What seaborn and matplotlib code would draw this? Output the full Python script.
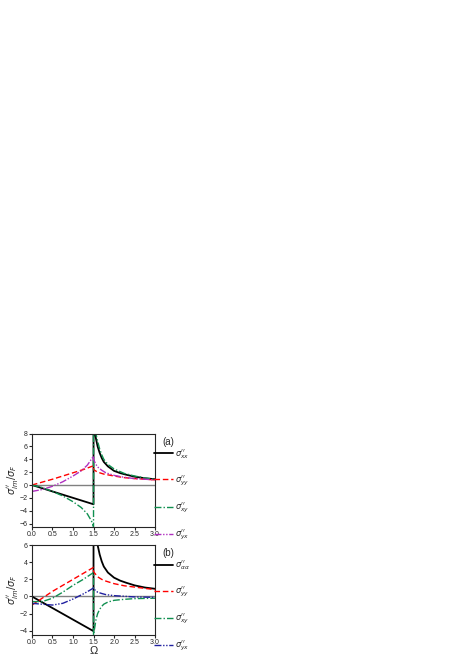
import matplotlib
matplotlib.use("Agg")
import matplotlib.pyplot as plt
import seaborn as sns
import pandas as pd

sns.set_style("ticks")
plt.rcParams['font.family'] = ['Liberation Sans', 'DejaVu Sans']
plt.rcParams['mathtext.fontset'] = 'dejavusans'

# Panel (a)
a_xx_x = [0.0, 0.5, 1.0, 1.5, 1.5, 1.53, 1.56, 1.6, 1.65, 1.7, 1.75, 1.85, 2.0, 2.15, 2.3, 2.5, 2.75, 3.0]
a_xx_y = [0.0, -1.0, -2.0, -3.0, 8.5, 8.3, 7.2, 6.0, 5.0, 4.2, 3.6, 2.9, 2.2, 1.85, 1.6, 1.3, 1.05, 0.9]
a_yy_x = [0.0, 0.25, 0.5, 0.75, 1.0, 1.25, 1.5, 1.5, 1.6, 1.75, 2.0, 2.25, 2.5, 2.75, 3.0]
a_yy_y = [0.0, 0.45, 0.9, 1.4, 1.9, 2.4, 3.0, 2.4, 2.0, 1.7, 1.4, 1.15, 1.0, 0.9, 0.8]
a_xy_x = [0.0, 0.25, 0.5, 0.75, 1.0, 1.2, 1.35, 1.45, 1.5, 1.5, 1.55, 1.6, 1.65, 1.7, 1.75, 1.85, 2.0, 2.25, 2.5, 2.75, 3.0]
a_xy_y = [0.0, -0.4, -1.0, -1.7, -2.6, -3.5, -4.5, -5.6, -6.5, 8.5, 8.2, 6.8, 5.6, 4.7, 4.0, 3.2, 2.5, 1.8, 1.4, 1.1, 0.9]
a_yx_x = [0.0, 0.25, 0.5, 0.75, 1.0, 1.2, 1.35, 1.5, 1.5, 1.55, 1.6, 1.7, 1.8, 2.0, 2.25, 2.5, 2.75, 3.0]
a_yx_y = [-1.0, -0.7, -0.2, 0.5, 1.4, 2.2, 3.1, 4.5, 4.0, 3.3, 2.8, 2.3, 1.9, 1.5, 1.2, 1.0, 0.9, 0.8]

# Panel (b)
b_aa_x = [0.0, 0.5, 1.0, 1.5, 1.5, 1.6, 1.65, 1.7, 1.75, 1.85, 2.0, 2.15, 2.3, 2.5, 2.75, 3.0]
b_aa_y = [0.0, -1.35, -2.7, -4.05, 6.5, 6.0, 4.9, 4.1, 3.5, 2.8, 2.2, 1.85, 1.6, 1.3, 1.05, 0.9]
b_yy_x = [0.0, 0.25, 0.5, 0.75, 1.0, 1.25, 1.5, 1.5, 1.55, 1.6, 1.7, 1.8, 2.0, 2.25, 2.5, 2.75, 3.0]
b_yy_y = [-1.0, -0.2, 0.6, 1.3, 2.0, 2.7, 3.4, 2.9, 2.6, 2.3, 2.0, 1.8, 1.5, 1.25, 1.1, 0.95, 0.8]
b_xy_x = [0.0, 0.25, 0.5, 0.75, 1.0, 1.25, 1.5, 1.5, 1.53, 1.56, 1.6, 1.65, 1.7, 1.75, 1.85, 2.0, 2.25, 2.5, 3.0]
b_xy_y = [-0.6, -0.6, -0.2, 0.5, 1.3, 2.0, 2.8, -4.5, -3.6, -2.7, -2.0, -1.5, -1.15, -0.9, -0.65, -0.45, -0.33, -0.25, -0.2]
b_yx_x = [0.0, 0.25, 0.5, 0.75, 1.0, 1.25, 1.4, 1.5, 1.5, 1.55, 1.6, 1.7, 1.8, 2.0, 2.5, 3.0]
b_yx_y = [-0.8, -0.9, -1.0, -0.8, -0.3, 0.3, 0.7, 1.0, 0.9, 0.7, 0.5, 0.35, 0.22, 0.1, -0.05, -0.1]

fig = plt.figure(figsize=(4.63, 6.56), dpi=100)
axa = fig.add_axes([0.069, 0.197, 0.266, 0.142])
axb = fig.add_axes([0.069, 0.032, 0.266, 0.137])

styles = [("black", "-", 1.3), ("red", (0, (4, 2)), 1.0), ("#109050", (0, (5, 1.5, 1, 1.5)), 1.0),
          ("#b030c0", (0, (5, 1.2, 1, 1.2, 1, 1.2)), 1.0)]
stylesb = [styles[0], styles[1], styles[2], ("#2020a0", (0, (5, 1.2, 1, 1.2, 1, 1.2)), 1.0)]

def draw(ax, curves, sty, labels, ylim, yticks, tag):
    handles = []
    for (xs, ys), (c, ls, lw), lab in zip(curves, sty, labels):
        df = pd.DataFrame({"x": xs, "y": ys})
        sns.lineplot(data=df, x="x", y="y", ax=ax, sort=False, estimator=None,
                     color=c, linestyle=ls, linewidth=lw)
        handles.append(plt.Line2D([], [], color=c, linestyle=ls, linewidth=lw, label=lab))
    ax.axhline(0, color="gray", lw=1, zorder=0)
    ax.set_xlim(0, 3)
    ax.set_ylim(*ylim)
    ax.set_xticks([0, 0.5, 1, 1.5, 2, 2.5, 3])
    ax.set_xticklabels(["0.0", "0.5", "1.0", "1.5", "2.0", "2.5", "3.0"])
    ax.set_yticks(yticks)
    ax.tick_params(labelsize=5, direction="out", length=2, pad=1)
    ax.set_xlabel("")
    ax.set_ylabel(r"$\sigma^{\prime\prime}_{lm}/\sigma_F$", fontsize=7, labelpad=0)
    ax.text(1.06, 0.88, tag, transform=ax.transAxes, fontsize=7)
    ax.legend(handles=handles, loc="upper left", bbox_to_anchor=(0.98, 0.87), frameon=False,
              fontsize=6, handlelength=2.2, labelspacing=1.55, handletextpad=0.3,
              borderpad=0.2, borderaxespad=0)

draw(axa, [(a_xx_x, a_xx_y), (a_yy_x, a_yy_y), (a_xy_x, a_xy_y), (a_yx_x, a_yx_y)], styles,
     [r"$\sigma^{\prime\prime}_{xx}$", r"$\sigma^{\prime\prime}_{yy}$", r"$\sigma^{\prime\prime}_{xy}$", r"$\sigma^{\prime\prime}_{yx}$"],
     (-6.5, 8), [-6, -4, -2, 0, 2, 4, 6, 8], "(a)")
draw(axb, [(b_aa_x, b_aa_y), (b_yy_x, b_yy_y), (b_xy_x, b_xy_y), (b_yx_x, b_yx_y)], stylesb,
     [r"$\sigma^{\prime\prime}_{\alpha\alpha}$", r"$\sigma^{\prime\prime}_{yy}$", r"$\sigma^{\prime\prime}_{xy}$", r"$\sigma^{\prime\prime}_{yx}$"],
     (-4.5, 6), [-4, -2, 0, 2, 4, 6], "(b)")
axb.set_xlabel("Ω", fontsize=8, labelpad=0)

fig.savefig("out.png", dpi=100)
